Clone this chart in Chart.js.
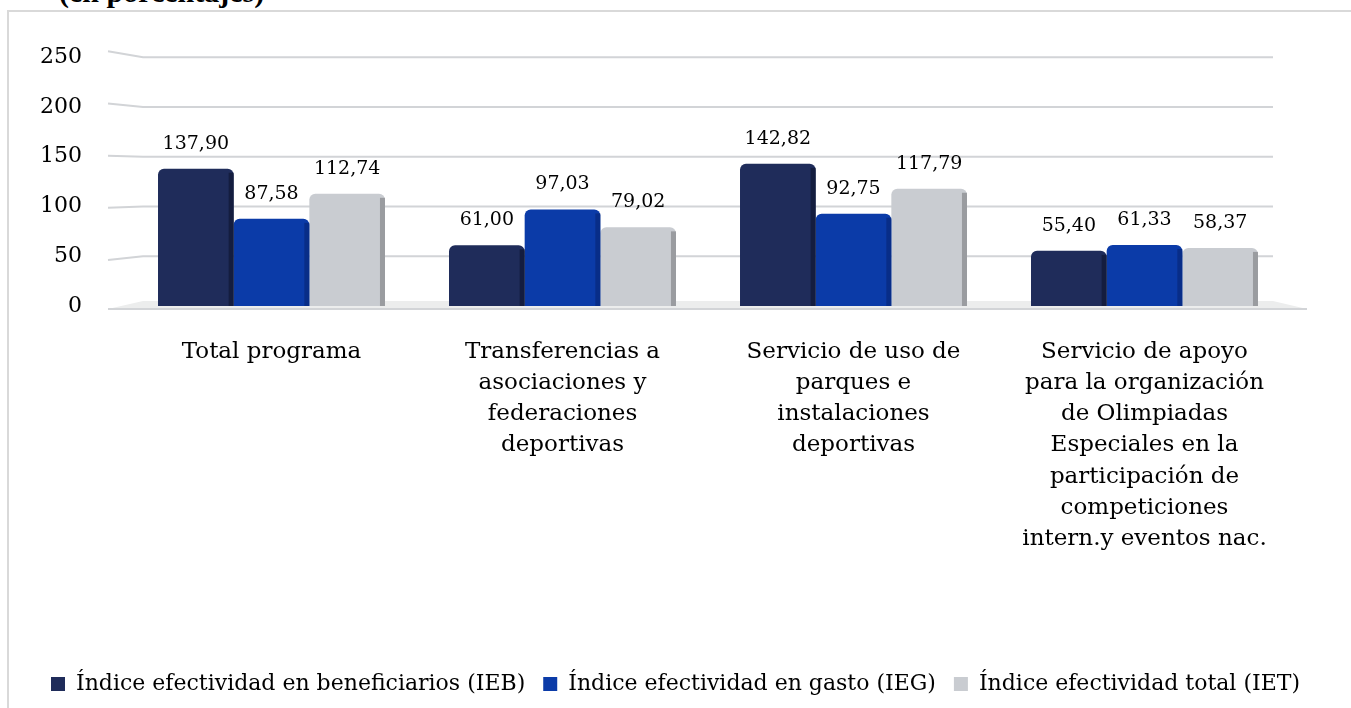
<!DOCTYPE html>
<html>
<head>
<meta charset="utf-8">
<script src="https://cdn.jsdelivr.net/npm/chart.js@4.4.1/dist/chart.umd.min.js"></script>
<style>
  body { margin: 0; background: #fff; overflow: hidden; }
  .frame { position: absolute; left: 7px; top: 10px; width: 1400px; height: 800px;
           border-left: 2px solid #d9d9d9; border-top: 2px solid #d9d9d9; }
  .title { position: absolute; left: 59px; top: -25px; font: bold 30px "Liberation Serif", serif; color: #000; white-space: nowrap; }
  #chart { position: absolute; left: 0; top: 0; }
</style>
</head>
<body>
<div class="frame"></div>
<div class="title">(en porcentajes)</div>
<canvas id="chart" width="1351" height="708"></canvas>
<script>
const categories = [
  'Total programa',
  ['Transferencias a', 'asociaciones y', 'federaciones', 'deportivas'],
  ['Servicio de uso de', 'parques e', 'instalaciones', 'deportivas'],
  ['Servicio de apoyo', 'para la organización', 'de Olimpiadas', 'Especiales en la', 'participación de', 'competiciones', 'intern.y eventos nac.']
];
const seriesNames = [
  'Índice efectividad en beneficiarios (IEB)',
  'Índice efectividad en gasto (IEG)',
  'Índice efectividad total (IET)'
];
const ieb = [137.90, 61.00, 142.82, 55.40];
const ieg = [87.58, 97.03, 92.75, 61.33];
const iet = [112.74, 79.02, 117.79, 58.37];
const yMin = 0, yMax = 250, yStep = 50;

const fontFamily = '"DejaVu Serif", serif';
const colors = ['#1f2c5a', '#0b3ba8', '#c9ccd1'];
const sideColors = ['#111a38', '#072a80', '#8e9094'];

// 3D-ish grid and floor
const gridPlugin = {
  id: 'gridPlugin',
  beforeDatasetsDraw(chart) {
    const {ctx, chartArea: a} = chart;
    const y = chart.scales.y;
    const vy = a.top + (a.bottom - a.top) * 0.49;
    ctx.save();
    ctx.strokeStyle = '#d2d4d7';
    ctx.lineWidth = 2;
    y.ticks.forEach(t => {
      const py = y.getPixelForValue(t.value);
      if (t.value === 0) {
        ctx.fillStyle = '#eceded';
        ctx.beginPath();
        ctx.moveTo(a.left + 17, py - 5);
        ctx.lineTo(a.right - 17, py - 5);
        ctx.lineTo(a.right + 17, py + 3);
        ctx.lineTo(a.left - 18, py + 3);
        ctx.closePath();
        ctx.fill();
        ctx.beginPath();
        ctx.moveTo(a.left - 18, py + 3);
        ctx.lineTo(a.right + 17, py + 3);
        ctx.stroke();
        return;
      }
      ctx.beginPath();
      ctx.moveTo(a.left - 18, py + (py - vy) * 0.048);
      ctx.lineTo(a.left + 17, py);
      ctx.lineTo(a.right - 17, py);
      ctx.stroke();
    });
    ctx.restore();
  }
};

// side shading + value labels
const barPlugin = {
  id: 'barPlugin',
  afterDatasetsDraw(chart) {
    const {ctx} = chart;
    ctx.save();
    chart.data.datasets.forEach((ds, i) => {
      const meta = chart.getDatasetMeta(i);
      meta.data.forEach((el, j) => {
        const p = el.getProps(['x', 'y', 'base', 'width'], true);
        ctx.fillStyle = sideColors[i];
        ctx.globalAlpha = 0.8;
        ctx.fillRect(p.x + p.width / 2 - 5, p.y + 4, 5, p.base - p.y - 4);
        ctx.globalAlpha = 1;
        ctx.fillStyle = '#000';
        ctx.font = '19px ' + fontFamily;
        ctx.textAlign = 'center';
        ctx.textBaseline = 'middle';
        ctx.fillText(ds.data[j].toFixed(2).replace('.', ','), p.x, p.y - 25);
      });
    });
    ctx.restore();
  }
};

function makeDataset(label, data, i) {
  return {
    label: label,
    data: data,
    backgroundColor: colors[i],
    borderWidth: 0,
    borderRadius: {topLeft: 6, topRight: 6},
    borderSkipped: 'bottom',
    categoryPercentage: 0.78,
    barPercentage: 1.0
  };
}

const config = {
  type: 'bar',
  data: {
    labels: categories,
    datasets: [
      makeDataset(seriesNames[0], ieb, 0),
      makeDataset(seriesNames[1], ieg, 1),
      makeDataset(seriesNames[2], iet, 2)
    ]
  },
  options: {
    responsive: false,
    animation: false,
    layout: { padding: { top: 40, left: 0, right: 0, bottom: 3 } },
    scales: {
      x: {
        grid: { display: false, drawTicks: false },
        border: { display: false },
        ticks: { color: '#000', font: { family: fontFamily, size: 23, lineHeight: 1.36 }, padding: 30, maxRotation: 0, autoSkip: false },
        afterFit(scale) { scale.height = 349; }
      },
      y: {
        min: yMin, max: yMax,
        grid: { display: false, drawTicks: false },
        border: { display: false },
        ticks: { stepSize: yStep, color: '#000', font: { family: fontFamily, size: 22 }, padding: 44 },
        afterFit(scale) { scale.width = 126; }
      },
      // empty right axis, only keeps space on the right of the plot
      yRight: {
        position: 'right',
        min: yMin, max: yMax,
        grid: { display: false, drawTicks: false },
        border: { display: false },
        ticks: { display: false },
        afterFit(scale) { scale.width = 61; }
      }
    },
    plugins: {
      legend: {
        position: 'bottom',
        labels: { color: '#000', font: { family: fontFamily, size: 22 }, boxWidth: 14, boxHeight: 14, padding: 18 }
      },
      tooltip: { enabled: false }
    }
  },
  plugins: [gridPlugin, barPlugin]
};

window.onload = () => {
  new Chart(document.getElementById('chart').getContext('2d'), config);
};
</script>
</body>
</html>
